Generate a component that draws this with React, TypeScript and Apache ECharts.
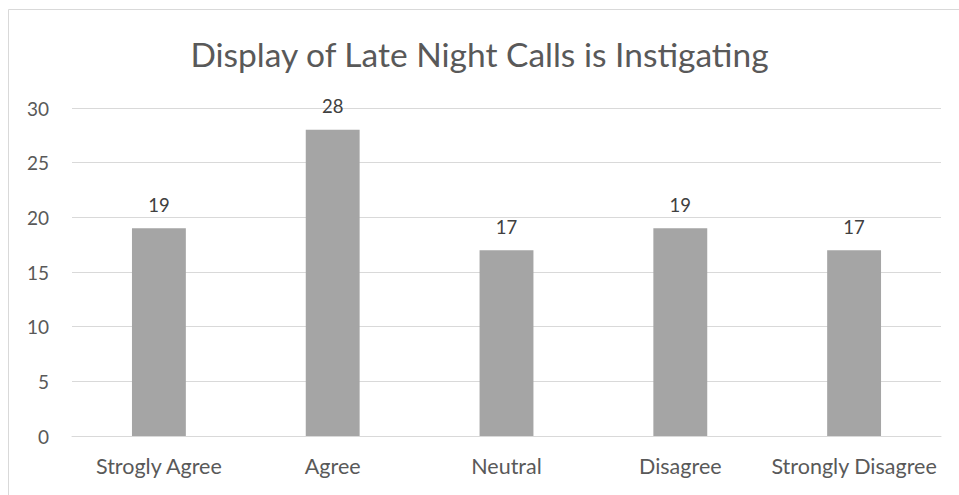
import React, { useEffect, useRef } from "react";
import * as echarts from "echarts";

const categories = ["Strogly Agree", "Agree", "Neutral", "Disagree", "Strongly Disagree"];
const values = [19, 28, 17, 19, 17];
const titleText = "Display of Late Night Calls is Instigating";

export default function App() {
  const ref = useRef<HTMLDivElement>(null);
  useEffect(() => {
    if (!ref.current) return;
    const chart = echarts.init(ref.current, undefined, { renderer: "svg" });
    const font = "Lato, 'Open Sans', sans-serif";
    chart.setOption({
      animation: false,
      backgroundColor: "#ffffff",
      title: {
        text: titleText,
        left: "center",
        top: 32,
        textStyle: { fontFamily: font, fontSize: 33.5, fontWeight: "normal", color: "#595959" },
      },
      graphic: [
        {
          type: "rect",
          shape: { x: 8.5, y: 9.5, width: 1000, height: 1000 },
          style: { fill: "none", stroke: "#d9d9d9", lineWidth: 1 },
          silent: true,
        },
      ],
      grid: { left: 72, right: 18, top: 108, bottom: 59, containLabel: false },
      xAxis: {
        type: "category",
        data: categories,
        axisLine: { show: true, lineStyle: { color: "#d9d9d9", width: 1 } },
        axisTick: { show: false },
        axisLabel: { fontFamily: font, fontSize: 21.5, color: "#595959", margin: 19, interval: 0 },
      },
      yAxis: {
        type: "value",
        min: 0,
        max: 30,
        interval: 5,
        axisLine: { show: false },
        axisTick: { show: false },
        splitLine: { lineStyle: { color: "#d9d9d9", width: 1 } },
        axisLabel: { fontFamily: font, fontSize: 19, color: "#595959", margin: 23 },
      },
      series: [
        {
          type: "bar",
          data: values,
          barWidth: "31%",
          itemStyle: { color: "#a5a5a5" },
          label: {
            show: true,
            position: "top",
            distance: 14,
            fontFamily: font,
            fontSize: 18.5,
            color: "#404040",
          },
        },
      ],
    });
    return () => chart.dispose();
  }, []);
  return (
    <div
      ref={ref}
      style={{ position: "absolute", left: 0, top: 0, width: 959, height: 495 }}
    />
  );
}
